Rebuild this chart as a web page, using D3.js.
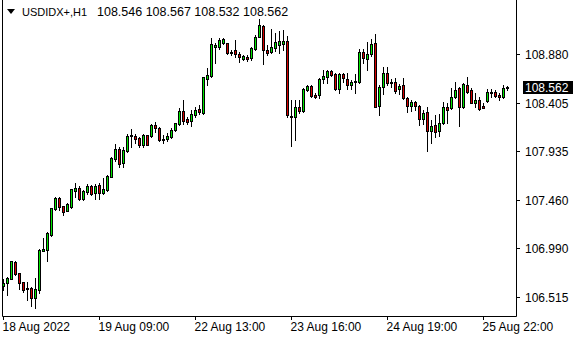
<!DOCTYPE html>
<html>
<head>
<meta charset="utf-8">
<script src="https://cdn.jsdelivr.net/npm/d3@7"></script>
<style>
  html, body { margin: 0; padding: 0; background: #fff; }
  svg { display: block; }
  text { font-family: "Liberation Sans", Arial, sans-serif; }
</style>
</head>
<body>
<svg id="chart" width="580" height="340"></svg>
<script>
const symbol = "USDIDX+,H1";
const opens = [106.625,106.648,106.693,106.856,106.746,106.658,106.603,106.603,106.508,106.586,
106.966,106.970,107.116,107.374,107.479,107.398,107.355,107.388,107.550,107.573,
107.466,107.537,107.592,107.524,107.602,107.530,107.556,107.686,107.858,107.953,
107.816,107.939,108.082,108.082,108.060,107.997,108.089,108.079,108.186,108.160,
108.050,108.056,108.075,108.140,108.196,108.325,108.244,108.231,108.286,108.345,
108.309,108.637,108.666,108.948,108.945,108.984,108.984,108.902,108.919,108.880,
108.834,108.854,108.838,108.929,109.048,109.152,108.919,108.902,108.935,108.968,
108.977,109.007,108.280,108.264,108.361,108.328,108.530,108.569,108.481,108.484,
108.634,108.659,108.717,108.685,108.542,108.685,108.634,108.575,108.608,108.608,
108.899,108.828,108.877,108.984,108.374,108.556,108.698,108.601,108.605,108.536,
108.578,108.449,108.377,108.410,108.374,108.244,108.313,108.134,108.189,108.134,
108.206,108.361,108.352,108.459,108.546,108.361,108.578,108.530,108.406,108.432,
108.374,108.425,108.503,108.507,108.484,108.459,108.546];
const highs = [106.690,106.713,106.868,106.868,106.751,106.664,106.664,106.615,106.697,106.982,
107.086,107.145,107.384,107.485,107.485,107.404,107.427,107.569,107.622,107.595,
107.556,107.612,107.602,107.612,107.622,107.670,107.702,107.875,108.004,107.978,
107.972,108.101,108.147,108.101,108.069,108.101,108.095,108.196,108.218,108.167,
108.092,108.108,108.157,108.211,108.352,108.432,108.270,108.335,108.361,108.384,
108.659,108.741,109.033,108.990,109.033,109.033,108.990,108.919,109.016,108.902,
108.870,108.870,108.945,109.065,109.218,109.162,108.968,109.120,109.087,109.107,
109.114,109.055,108.432,108.432,108.432,108.546,108.578,108.575,108.498,108.644,
108.724,108.724,108.724,108.698,108.692,108.698,108.692,108.627,108.685,108.926,
108.926,109.000,109.023,109.075,108.578,108.756,108.756,108.634,108.644,108.588,
108.644,108.459,108.432,108.425,108.384,108.335,108.367,108.238,108.286,108.296,
108.410,108.406,108.546,108.605,108.562,108.595,108.653,108.546,108.498,108.459,
108.400,108.536,108.536,108.530,108.503,108.578,108.567];
const lows = [106.583,106.534,106.687,106.726,106.590,106.561,106.486,106.430,106.405,106.557,
106.963,106.868,107.109,107.362,107.362,107.313,107.352,107.381,107.491,107.459,
107.459,107.517,107.505,107.472,107.472,107.517,107.550,107.680,107.842,107.777,
107.777,107.929,107.972,108.017,107.978,107.978,107.991,108.069,108.124,108.033,
108.017,108.036,108.060,108.134,108.189,108.199,108.199,108.179,108.270,108.293,
108.296,108.578,108.653,108.795,108.926,108.974,108.877,108.870,108.848,108.805,
108.822,108.812,108.822,108.919,109.043,108.780,108.870,108.893,108.912,108.887,
108.919,108.270,107.985,108.043,108.303,108.318,108.520,108.464,108.449,108.449,
108.601,108.601,108.666,108.530,108.503,108.610,108.536,108.536,108.498,108.595,
108.789,108.724,108.861,108.361,108.286,108.491,108.578,108.556,108.498,108.491,
108.439,108.313,108.328,108.335,108.189,108.199,107.939,108.011,108.075,108.082,
108.199,108.206,108.342,108.449,108.179,108.352,108.503,108.400,108.367,108.335,
108.352,108.416,108.464,108.464,108.432,108.449,108.532];
const closes = [106.654,106.703,106.862,106.739,106.654,106.586,106.590,106.508,106.593,106.972,
106.982,107.138,107.378,107.479,107.394,107.345,107.420,107.563,107.573,107.466,
107.550,107.592,107.520,107.592,107.530,107.563,107.693,107.868,107.955,107.807,
107.946,108.082,108.089,108.056,107.994,108.089,107.997,108.186,108.160,108.040,
108.040,108.082,108.140,108.206,108.325,108.231,108.218,108.293,108.335,108.316,
108.653,108.676,108.977,108.968,109.016,109.023,108.887,108.887,108.877,108.848,
108.861,108.828,108.935,109.048,109.162,108.919,108.893,108.945,109.000,109.009,
109.009,108.286,108.264,108.361,108.328,108.536,108.569,108.471,108.464,108.634,
108.666,108.717,108.676,108.542,108.685,108.644,108.575,108.608,108.617,108.899,
108.838,108.877,108.977,108.367,108.556,108.698,108.601,108.610,108.523,108.569,
108.449,108.377,108.410,108.377,108.244,108.309,108.134,108.179,108.124,108.211,
108.361,108.335,108.459,108.530,108.361,108.585,108.513,108.406,108.432,108.348,
108.357,108.513,108.513,108.474,108.459,108.549,108.562];
const priceTicks = [108.880, 108.405, 107.935, 107.460, 106.990, 106.515];
const timeLabels = ["18 Aug 2022", "19 Aug 09:00", "22 Aug 13:00", "23 Aug 16:00", "24 Aug 19:00", "25 Aug 22:00"];
const timeLabelBars = [0, 24, 48, 72, 96, 120];

const n = opens.length;
const svg = d3.select("#chart");
const axisX = 516, bottomY = 316;

const x = d3.scaleLinear().domain([0, n - 1]).range([3, 3 + 4 * (n - 1)]);
const y = d3.scaleLinear().domain([106.515, 108.880]).range([297, 54]);

svg.append("rect").attr("width", 580).attr("height", 340).attr("fill", "#fff");

// frame
svg.append("path")
  .attr("d", `M2.5,0 V${bottomY + 0.5} H${axisX + 0.5} V0`)
  .attr("fill", "none").attr("stroke", "#000").attr("stroke-width", 1);

// candles
const data = d3.range(n).map(i => ({ i, o: opens[i], h: highs[i], l: lows[i], c: closes[i] }));
const g = svg.append("g");
data.forEach(d => {
  const cx = Math.round(x(d.i));
  const yh = Math.round(y(d.h)), yl = Math.round(y(d.l));
  const yt = Math.round(y(Math.max(d.o, d.c))), yb = Math.round(y(Math.min(d.o, d.c)));
  g.append("line")
    .attr("x1", cx + 0.5).attr("x2", cx + 0.5)
    .attr("y1", yh).attr("y2", yl + 1)
    .attr("stroke", "#000").attr("stroke-width", 1);
  if (yb - yt < 1) {
    g.append("line")
      .attr("x1", cx - 1).attr("x2", cx + 2)
      .attr("y1", yt + 0.5).attr("y2", yt + 0.5)
      .attr("stroke", "#000").attr("stroke-width", 1);
  } else {
    g.append("rect")
      .attr("x", cx - 0.5).attr("y", yt + 0.5)
      .attr("width", 2).attr("height", yb - yt)
      .attr("fill", d.c >= d.o ? "#00e600" : "#d40000")
      .attr("stroke", "#000").attr("stroke-width", 1);
  }
});

// price axis
priceTicks.forEach(p => {
  const yy = Math.round(y(p)) + 0.5;
  svg.append("line").attr("x1", axisX).attr("x2", axisX + 4)
    .attr("y1", yy).attr("y2", yy).attr("stroke", "#000");
  svg.append("text").attr("x", 525).attr("y", yy)
    .attr("dominant-baseline", "central")
    .attr("font-size", "12px").attr("fill", "#000")
    .text(p.toFixed(3));
});

// current price box
const last = n - 1;
const cy = y(closes[last]);
svg.append("rect").attr("x", 523).attr("y", Math.round(cy) - 6)
  .attr("width", 50).attr("height", 13).attr("fill", "#000");
svg.append("text").attr("x", 525).attr("y", Math.round(cy) + 0.5)
  .attr("dominant-baseline", "central")
  .attr("font-size", "12px").attr("fill", "#fff")
  .text(closes[last].toFixed(3));

// time axis
timeLabelBars.forEach((b, k) => {
  const xx = Math.round(x(b)) + 0.5;
  svg.append("line").attr("x1", xx).attr("x2", xx)
    .attr("y1", bottomY).attr("y2", bottomY + 4).attr("stroke", "#000");
  svg.append("text").attr("x", xx - 1).attr("y", 327)
    .attr("dominant-baseline", "central")
    .attr("font-size", "12px").attr("fill", "#000")
    .text(timeLabels[k]);
});

// header
svg.append("path").attr("d", "M7,9 L15,9 L11,14 Z").attr("fill", "#000");
svg.append("text").attr("x", 22).attr("y", 12)
  .attr("dominant-baseline", "central")
  .attr("font-size", "11px").attr("fill", "#000")
  .text(symbol);
svg.append("text").attr("x", 97).attr("y", 12)
  .attr("dominant-baseline", "central")
  .attr("font-size", "12.5px").attr("fill", "#000")
  .text([opens[last], highs[last], lows[last], closes[last]].map(v => v.toFixed(3)).join(" "));
</script>
</body>
</html>
